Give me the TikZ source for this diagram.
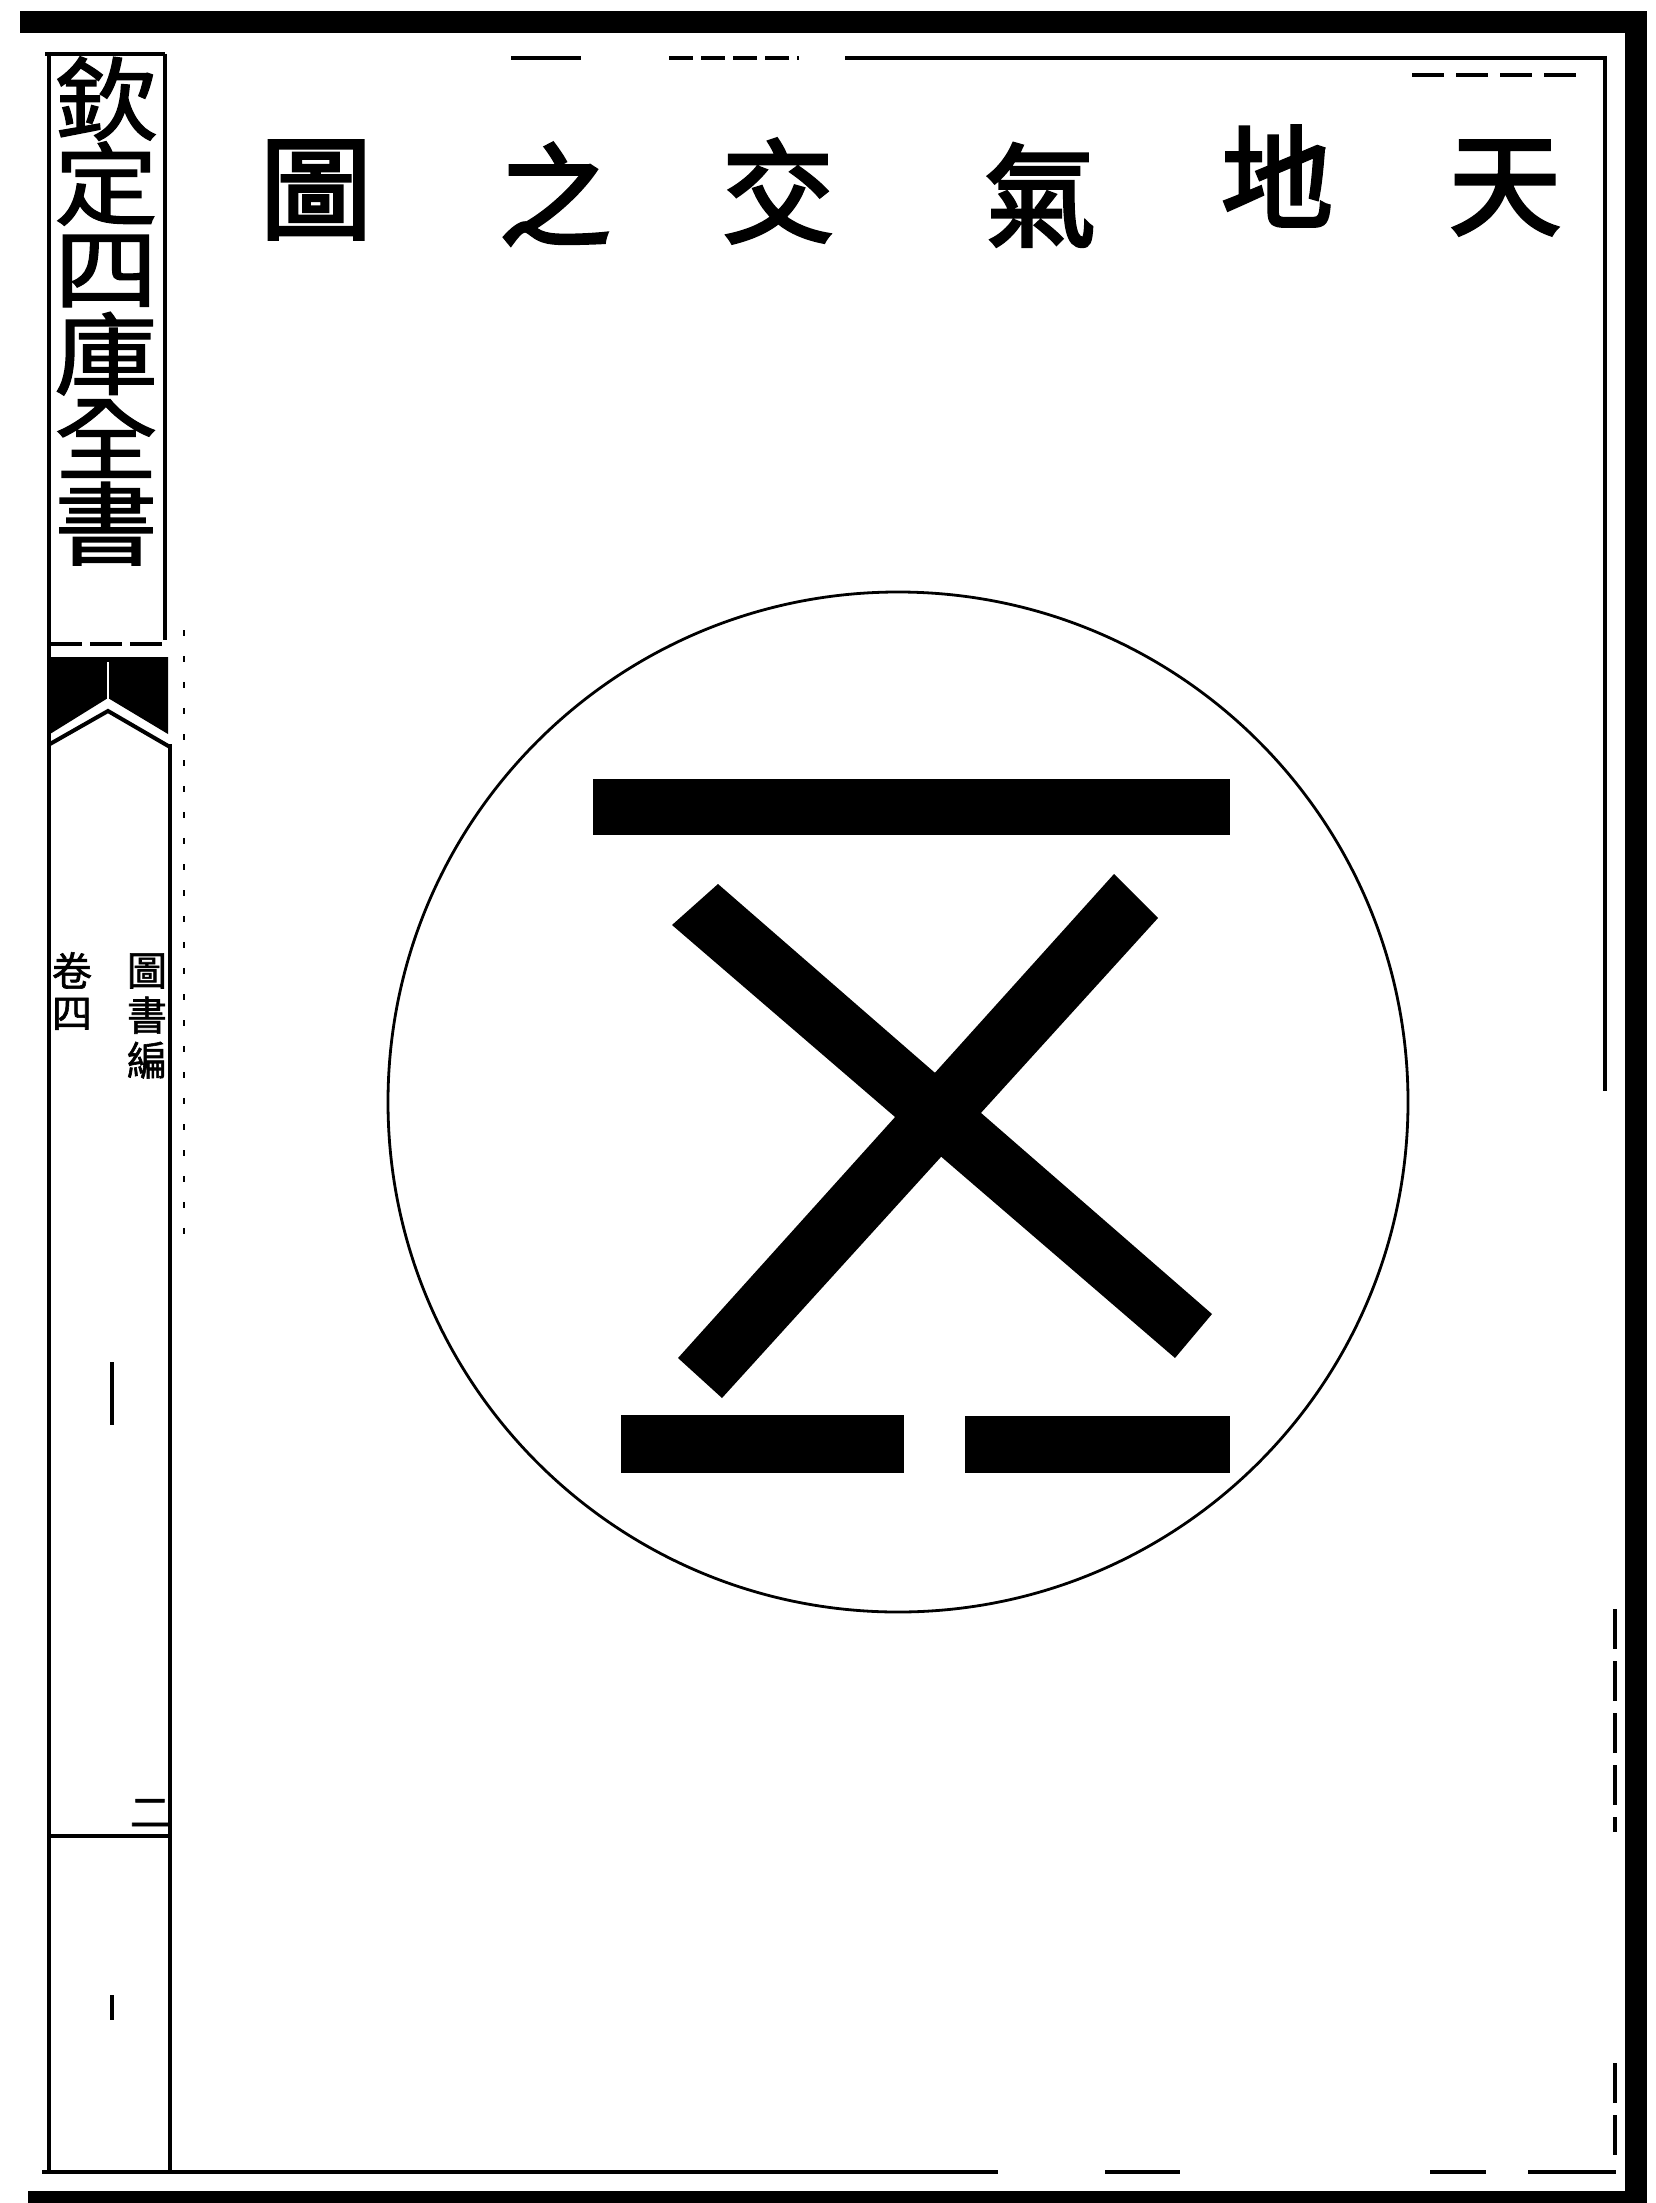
\documentclass[tikz,border=0pt]{standalone}
\usepackage{fontspec}
\newfontfamily\cjk{Noto Sans CJK TC}
\newfontfamily\cjkbold{Noto Sans CJK TC}[FakeBold=3]
\newfontfamily\cjkmid{Noto Sans CJK TC}[FakeBold=1.5]
\begin{document}
\begin{tikzpicture}[x=0.25pt,y=-0.25pt,
  heavy/.style={fill=black,draw=none},
  frameline/.style={line width=1.05pt},
  colline/.style={line width=1.2pt},
  faint/.style={line width=0.5pt,dash pattern=on 1.5pt off 5pt},
  circline/.style={line width=0.7pt},
  ink/.style={fill=black,draw=none},
  titlechar/.style={inner sep=0pt,font=\cjkbold\fontsize{28}{28}\selectfont},
  coltitle/.style={inner sep=0pt,align=center,xscale=1.15,font=\cjkmid\fontsize{22.5}{21.25}\selectfont},
  smallcol/.style={inner sep=0pt,align=center,font=\cjkmid\fontsize{10}{11.25}\selectfont}]
\useasboundingbox (0,0) rectangle (1656,2203);
\fill[white] (0,0) rectangle (1656,2203);
% heavy outer border
\fill[heavy] (20,11) rectangle (1647,33);
\fill[heavy] (1625,11) rectangle (1647,2203);
\fill[heavy] (28,2191) rectangle (1647,2203);
% inner frame lines
\draw[frameline] (511,58) -- (581,58);
\draw[frameline,dash pattern=on 6pt off 2pt] (669,58) -- (799,58);
\draw[frameline] (845,58) -- (1605,58);
\draw[line width=0.8pt,dash pattern=on 8pt off 3pt] (1412,75) -- (1583,75);
\draw[frameline] (1605,56) -- (1605,1091);
\draw[frameline,dash pattern=on 10pt off 3pt] (1615,1609) -- (1615,1832);
\draw[frameline,dash pattern=on 10pt off 3pt] (1615,2063) -- (1615,2160);
\draw[frameline] (42,2172) -- (998,2172);
\draw[frameline] (1105,2172) -- (1180,2172);
\draw[frameline] (1430,2172) -- (1486,2172);
\draw[frameline] (1528,2172) -- (1616,2172);
% left column (banxin)
\draw[colline] (45,54) -- (165,54);
\draw[colline] (49,52) -- (49,2172);
\draw[colline] (165,54) -- (165,640);
\draw[colline,dash pattern=on 8pt off 2pt] (50,644) -- (166,644);
\fill[ink] (50,657) -- (168,657) -- (168,734) -- (108,698) -- (50,734) -- cycle;
\draw[white,line width=0.6pt] (108,662) -- (108,700);
\draw[line width=1pt] (50,744) -- (108,711) -- (170,747);
\draw[colline] (170,744) -- (170,2172);
\draw[colline] (49,1836) -- (170,1836);
\draw[faint] (184,630) -- (184,1245);
\node[coltitle] (sku) at (106,311) {欽\\定\\四\\庫\\全\\書};
\node[smallcol] (book) at (147,1016) {圖\\書\\編};
\node[smallcol,font=\cjkmid\fontsize{10}{10.5}\selectfont] (juan) at (72,991) {卷\\四};
\draw[line width=1pt] (112,1362) -- (112,1425);
\node[inner sep=0pt,font=\cjkmid\fontsize{10}{10}\selectfont] (pageno) at (150,1813) {二};
\draw[line width=1pt] (112,1995) -- (112,2020);
% title
\node[titlechar] (tian) at (1505,188) {天};
\node[titlechar] (di)   at (1277,176) {地};
\node[titlechar] (qi)   at (1040,195) {氣};
\node[titlechar] (jiao) at (778,191) {交};
\node[titlechar] (zhi)  at (555,194) {之};
\node[titlechar] (tu)   at (316,190) {圖};
% diagram
\draw[circline] (898,1102) ellipse [x radius=510, y radius=510];
\fill[ink] (593,779) rectangle (1230,835);
\fill[ink] (672,925) -- (718,884) -- (1212,1314) -- (1175,1358) -- cycle;
\fill[ink] (1114,874) -- (1158,918) -- (722,1398) -- (678,1358) -- cycle;
\fill[ink] (621,1415) rectangle (904,1473);
\fill[ink] (965,1416) rectangle (1230,1473);
\end{tikzpicture}
\end{document}
